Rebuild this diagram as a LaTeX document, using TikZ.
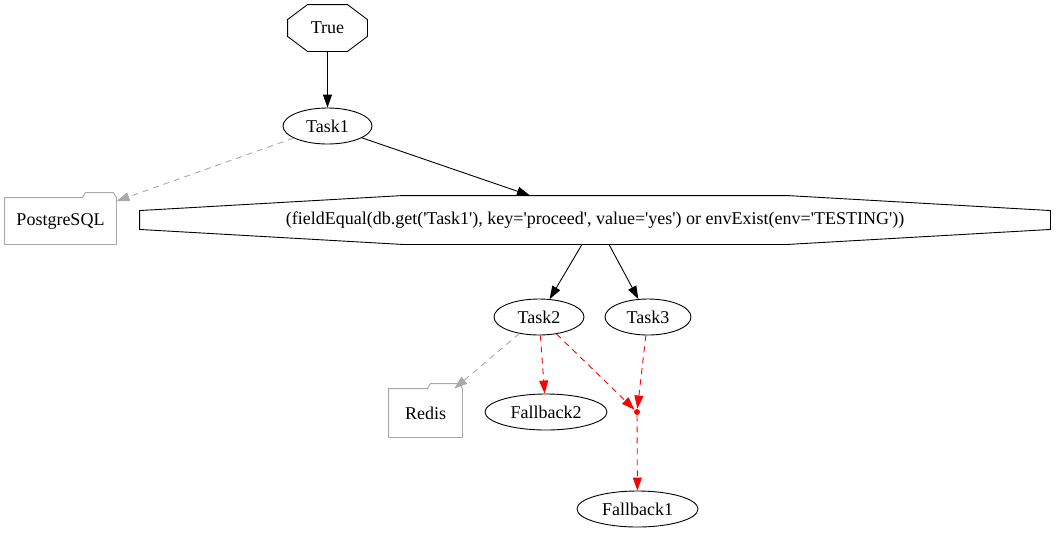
\documentclass[tikz,border=0pt]{standalone}
\usepackage{fontspec}
\setmainfont{Liberation Serif}
\usetikzlibrary{arrows.meta,positioning,shapes.geometric,calc}
\definecolor{dbgray}{HTML}{A9A9A9}
\definecolor{fallred}{HTML}{FF0000}
\newcommand{\sq}{\textquotesingle}
% octagon outline round a node: node, top inset, side inset
\newcommand{\octagonline}[3]{%
  \draw ($(#1.north west)+(#2,0)$) -- ($(#1.north east)+(-#2,0)$)
    -- ($(#1.north east)+(0,#3)$) -- ($(#1.south east)+(0,-#3)$)
    -- ($(#1.south east)+(-#2,0)$) -- ($(#1.south west)+(#2,0)$)
    -- ($(#1.south west)+(0,-#3)$) -- ($(#1.north west)+(0,#3)$) -- cycle;}
% folder outline round a node: node, tab width
\newcommand{\folderline}[2]{%
  \draw[dbgray] (#1.south west) -- (#1.north west)
    -- ($(#1.north east)+(-#2,0)$) -- ++(3,-5)
    -- ($(#1.north east)+(-3,-5)$) -- (#1.north east)
    -- (#1.south east) -- cycle;}

\begin{document}
\begin{tikzpicture}[x=1pt, y=-1pt, line width=0.9pt,
  every node/.style={font=\fontsize{18}{22}\selectfont, inner sep=0pt},
  task/.style={draw, ellipse, minimum height=36pt},
  flow/.style={-{Triangle[length=13pt,width=9pt]}},
  dbedge/.style={flow, dbgray, dash pattern=on 6pt off 5pt},
  fallback/.style={flow, fallred, dash pattern=on 6pt off 5pt},
  junction/.style={circle, fill=fallred, minimum size=6pt}]
  \useasboundingbox (0,0) rectangle (1056,539);

  %% Start and condition
  \node[minimum width=79pt, minimum height=46pt] (true) at (327.5,28) {True};
  \octagonline{true}{20}{15}
  \node[minimum width=910pt, minimum height=48pt] (cond) at (595,220)
    {(fieldEqual(db.get(\sq Task1\sq), key=\sq proceed\sq, value=\sq yes\sq) or envExist(env=\sq TESTING\sq))};
  \octagonline{cond}{263}{15}

  %% Tasks
  \node[task, minimum width=89pt] (task1) at (327.5,126) {Task1};
  \node[task, minimum width=90pt] (task2) at (539,317) {Task2};
  \node[task, minimum width=86pt] (task3) at (648,317) {Task3};
  \node[task, minimum width=122pt] (fb2) at (546,412) {Fallback2};
  \node[task, minimum width=121pt] (fb1) at (637.5,509) {Fallback1};
  \node[junction] (join) at (637,412) {};

  %% Stores
  \node[minimum width=111pt, minimum height=46pt] (pg) at (60.5,221) {PostgreSQL};
  \folderline{pg}{34}
  \node[minimum width=73pt, minimum height=48pt] (redis) at (425.5,413) {Redis};
  \folderline{redis}{35}

  %% Edges
  \draw[flow] (true) -- (task1);
  \draw[flow] (task1) -- ([xshift=-65pt]cond.north);
  \draw[dbedge] (task1) -- (pg);
  \draw[flow] ([xshift=-13pt]cond.south) -- (task2);
  \draw[flow] ([xshift=14pt]cond.south) -- (task3);
  \draw[dbedge] (task2) -- (redis);
  \draw[fallback] (task2) -- (fb2);
  \draw[fallback] (task2) -- (join);
  \draw[fallback] (task3) -- (join);
  \draw[fallback] (join) -- (fb1);
\end{tikzpicture}
\end{document}
